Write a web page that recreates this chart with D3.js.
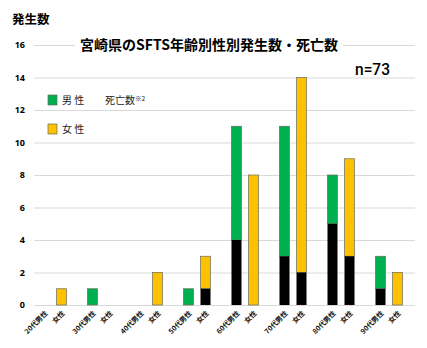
<!DOCTYPE html>
<html><head><meta charset="utf-8">
<script src="https://cdn.jsdelivr.net/npm/d3@7"></script>
<style>body{margin:0;background:#fff}</style>
</head><body><svg id="chart" width="427" height="348"></svg>
<script>
// 宮崎県のSFTS 年齢別・性別 発生数と死亡数
const ageGroups = ["20代","30代","40代","50代","60代","70代","80代","90代"];
const sexes = ["男性","女性"];
const maleCases = [0,1,0,1,11,11,8,3];
const femaleCases = [1,0,2,3,8,14,9,2];
const maleDeaths = [0,0,0,0,4,3,5,1];
const femaleDeaths = [0,0,0,1,0,2,3,0];
const yTicks = [0,2,4,6,8,10,12,14,16];

const colors = {"男性":"#00B050","女性":"#FFC000",death:"#000000"};
const jp = "'Noto Sans CJK JP','Noto Sans',sans-serif";

const rows = [];
ageGroups.forEach((g,i)=>{
  rows.push({group:g, sex:"男性", total:maleCases[i], deaths:maleDeaths[i], label:g+"男性"});
  rows.push({group:g, sex:"女性", total:femaleCases[i], deaths:femaleDeaths[i], label:"女性"});
});

const svg = d3.select("#chart");
const x0 = d3.scaleBand().domain(ageGroups).range([29,413]);
const x1 = d3.scaleBand().domain(sexes).range([10.5,37.5]).paddingInner(7/17);
const y = d3.scaleLinear().domain([0,16]).range([305,45]);

// gridlines
const yAxis = d3.axisLeft(y).tickValues(yTicks).tickSize(-(415-34)).tickPadding(9);
const gy = svg.append("g").attr("transform","translate(34,0)").call(yAxis);
gy.select(".domain").remove();
gy.selectAll(".tick line").attr("stroke","#d9d9d9").attr("stroke-width",1);
gy.selectAll(".tick text").attr("fill","#000").style("font-family","'Noto Sans',sans-serif")
  .style("font-size","9px").style("font-weight","bold");

// bars
const bar = svg.append("g").selectAll("g").data(rows).join("g")
  .attr("transform",d=>`translate(${x0(d.group)+x1(d.sex)},0)`);
bar.filter(d=>d.total>d.deaths).append("rect")
  .attr("y",d=>y(d.total)).attr("width",x1.bandwidth())
  .attr("height",d=>y(d.deaths)-y(d.total))
  .attr("fill",d=>colors[d.sex]).attr("stroke","#6b6b5a").attr("stroke-width",0.7);
bar.filter(d=>d.deaths>0).append("rect")
  .attr("y",d=>y(d.deaths)).attr("width",x1.bandwidth())
  .attr("height",d=>y(0)-y(d.deaths)).attr("fill",colors.death);

// category labels
svg.append("g").selectAll("text").data(rows).join("text")
  .attr("transform",d=>`translate(${x0(d.group)+x1(d.sex)+x1.bandwidth()/2+2},312) rotate(-45)`)
  .attr("text-anchor","end").attr("dy","0.35em")
  .style("font-family",jp).style("font-size","7px").style("font-weight","bold").attr("fill","#111")
  .text(d=>d.label);

// axis title
svg.append("text").attr("x",12).attr("y",24).text("発生数")
  .style("font-family",jp).style("font-size","12.5px").style("font-weight","bold");

// chart title on a white backing
const titleBg = svg.append("rect").attr("fill","#fff");
const title = svg.append("text").attr("x",209).attr("y",50).attr("text-anchor","middle")
  .text("宮崎県のSFTS年齢別性別発生数・死亡数")
  .style("font-family",jp).style("font-size","14px").style("font-weight","bold");
const tb = title.node().getBBox();
titleBg.attr("x",tb.x-5).attr("y",tb.y).attr("width",tb.width+10).attr("height",tb.height);

svg.append("text").attr("x",355).attr("y",75).text("n=73")
  .attr("textLength",35).attr("lengthAdjust","spacingAndGlyphs")
  .style("font-family","Roboto,sans-serif").style("font-size","16px").style("font-weight","500");

// legend
const leg = svg.append("g");
[["男性",100],["女性",129]].forEach(([s,cy])=>{
  leg.append("rect").attr("x",48).attr("y",cy-5).attr("width",9).attr("height",10)
    .attr("fill",colors[s]).attr("stroke","#6b6b5a").attr("stroke-width",0.7);
  leg.append("text").attr("x",62).attr("y",cy).attr("dy","0.36em").text(s.split("").join(" "))
    .style("font-family",jp).style("font-size","10px").attr("fill","#222");
});
const dt = leg.append("text").attr("x",105).attr("y",100).attr("dy","0.36em")
  .style("font-family",jp).style("font-size","10px").attr("fill","#222");
dt.append("tspan").text("死亡数");
dt.append("tspan").attr("dy","-0.4em").style("font-size","6.5px").text("※2");
</script></body></html>
